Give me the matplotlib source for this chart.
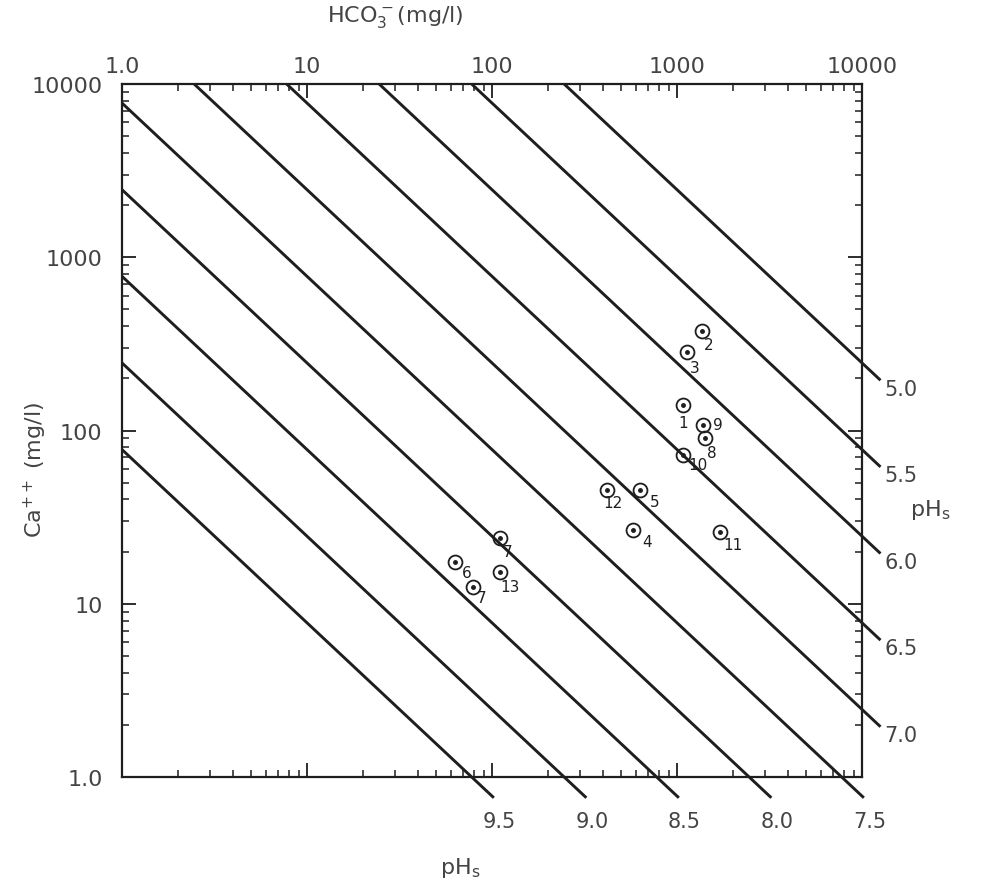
import numpy as np
import matplotlib
matplotlib.use("Agg")
import matplotlib.pyplot as plt
from matplotlib.ticker import LogLocator, NullFormatter, FixedLocator

# pHs lines (log Ca + log HCO3 = K - pHs)
K_SUM = 11.39
phs_right = [5.0, 5.5, 6.0, 6.5, 7.0]
phs_bottom = [7.5, 8.0, 8.5, 9.0, 9.5]
right_labels = ["5.0", "5.5", "6.0", "6.5", "7.0"]
bottom_labels = ["7.5", "8.0", "8.5", "9.0", "9.5"]

# sample points: HCO3 (mg/l), Ca (mg/l), label
pt_names = ["1", "2", "3", "4", "5", "6", "7", "7", "8", "9", "10", "11", "12", "13"]
pt_hco3 = [1077, 1365, 1132, 578, 631, 63, 110, 79, 1417, 1382, 1077, 1708, 419, 110]
pt_ca = [141, 373, 282, 26.8, 45.6, 17.5, 24.1, 12.5, 91, 108, 72.6, 26, 45.6, 15.3]
# label offsets in pixels (dx, dy down)
pt_off = [(0, 18), (7, 13), (8, 15), (14, 12), (15, 12), (12, 11), (8, 14),
          (9, 11), (7, 15), (15, 0), (15, 10), (13, 13), (6, 13), (10, 15)]

top_ticks = [1, 10, 100, 1000, 10000]
top_ticklabels = ["1.0", "10", "100", "1000", "10000"]
y_ticks = [1, 10, 100, 1000, 10000]
y_ticklabels = ["1.0", "10", "100", "1000", "10000"]

ink = "#1e1e1e"
txt = "#444444"
plt.rcParams["font.family"] = ["DejaVu Sans"]

fig = plt.figure(figsize=(10.05, 8.87), dpi=100)
ax = fig.add_axes([122 / 1005, 1 - 778 / 887, 740 / 1005, 693 / 887])
ax.set_xscale("log")
ax.set_yscale("log")
ax.set_xlim(1, 10000)
ax.set_ylim(1, 10000)

for s in ax.spines.values():
    s.set_linewidth(1.6)
    s.set_color(ink)

# pHs lines
def draw_line(ph, label, where):
    S = K_SUM - ph
    x0 = max(0.0, S - 4.0)
    if S - 4.0 >= 0:
        x1 = 4.0 + 0.1
    else:
        x1 = S + 0.12
    xs = np.array([x0, x1])
    ys = S - xs
    ax.plot(10 ** xs, 10 ** ys, color=ink, lw=2.1, clip_on=False,
            solid_capstyle="butt")
    if where == "right":
        ax.annotate(label, (10 ** x1, 10 ** (S - x1)), xytext=(3, -6),
                    textcoords="offset points", fontsize=15, color=txt,
                    ha="left", va="center", annotation_clip=False)
    else:
        ax.annotate(label, (10 ** x1, 10 ** (S - x1)), xytext=(4, -17),
                    textcoords="offset points", fontsize=15, color=txt,
                    ha="center", va="center", annotation_clip=False)

for ph, lab in zip(phs_right, right_labels):
    draw_line(ph, lab, "right")
for ph, lab in zip(phs_bottom, bottom_labels):
    draw_line(ph, lab, "bottom")

# points
ax.plot(pt_hco3, pt_ca, "o", ms=10, mfc="none", mec=ink, mew=1.3)
ax.plot(pt_hco3, pt_ca, "o", ms=2.5, mfc=ink, mec=ink)
for n, x, y, (dx, dy) in zip(pt_names, pt_hco3, pt_ca, pt_off):
    ax.annotate(n, (x, y), xytext=(dx * 0.72, -dy * 0.72),
                textcoords="offset points", fontsize=11, color=ink,
                ha="center", va="center")

# ticks
ax.xaxis.set_major_locator(FixedLocator(top_ticks))
ax.xaxis.set_minor_locator(LogLocator(base=10, subs=np.arange(2, 10)))
ax.xaxis.set_minor_formatter(NullFormatter())
ax.set_xticklabels(top_ticklabels)
ax.yaxis.set_major_locator(FixedLocator(y_ticks))
ax.yaxis.set_minor_locator(LogLocator(base=10, subs=np.arange(2, 10)))
ax.yaxis.set_minor_formatter(NullFormatter())
ax.set_yticklabels(y_ticklabels)
ax.tick_params(axis="both", which="major", direction="in", length=10,
               width=1.3, color=ink, labelsize=16, labelcolor=txt,
               top=True, right=True, bottom=True, left=True,
               labeltop=True, labelbottom=False)
ax.tick_params(axis="x", which="major", pad=6)
ax.tick_params(axis="y", which="major", pad=14)
ax.tick_params(axis="both", which="minor", direction="in", length=5,
               width=1.1, color=ink, top=True, right=True)

fig.text(395 / 1005, 1 - 17 / 887, r"HCO$_3^-$(mg/l)", fontsize=16,
         color=txt, ha="center", va="center")
fig.text(35 / 1005, 1 - 470 / 887, r"Ca$^{++}$ (mg/l)", fontsize=16,
         color=txt, ha="center", va="center", rotation=90)
fig.text(460 / 1005, 1 - 868 / 887, r"pH$_\mathrm{s}$", fontsize=16,
         color=txt, ha="center", va="center")
fig.text(930 / 1005, 1 - 510 / 887, r"pH$_\mathrm{s}$", fontsize=16,
         color=txt, ha="center", va="center")

fig.savefig("out.png", dpi=100)
